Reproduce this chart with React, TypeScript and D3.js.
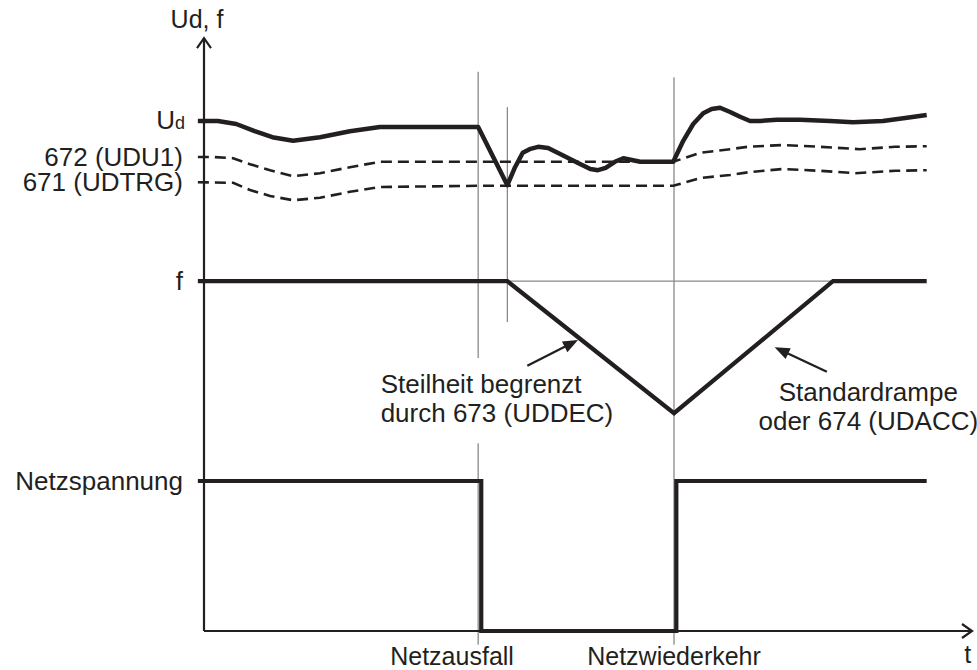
import React from "react";
import * as d3 from "d3";

// time axis in arbitrary units 0..100, value axis 0..100
const udT = [-0.8, 1.8, 4.2, 6.6, 8.9, 11.6, 15.1, 19.0, 22.9, 35.7, 39.5, 40.5, 41.5, 42.4, 43.5, 44.8, 46.7, 48.7, 50.3, 51.3, 52.3, 53.5, 54.6, 55.7, 56.8, 61.1, 62.4, 63.7, 65.0, 66.1, 67.2, 68.5, 69.8, 71.1, 72.4, 74.6, 77.6, 81.5, 84.5, 88.4, 91.3, 94.1];
const udV = [85.0, 85.0, 84.5, 83.3, 82.3, 81.7, 82.3, 83.3, 84.0, 84.0, 74.3, 77.3, 79.7, 80.3, 80.7, 80.5, 79.3, 78.0, 77.0, 76.8, 77.2, 78.2, 78.8, 78.5, 78.2, 78.2, 81.7, 84.5, 86.3, 87.0, 87.2, 86.5, 85.7, 85.0, 85.0, 85.2, 85.2, 85.0, 84.8, 85.0, 85.5, 86.0];

const udu1T = [-0.8, 1.2, 3.8, 6.0, 8.6, 11.6, 15.1, 19.0, 22.9, 35.7, 61.1, 64.6, 68.5, 70.8, 75.4, 80.2, 85.4, 90.0, 94.1];
const udu1V = [79.0, 79.0, 78.8, 77.8, 76.8, 75.8, 76.3, 77.3, 78.2, 78.2, 78.2, 79.7, 80.3, 80.7, 81.0, 80.7, 80.3, 80.7, 80.8];

const udtrgT = [-0.8, 3.8, 6.0, 8.6, 11.6, 15.1, 19.0, 22.9, 35.7, 61.1, 64.6, 68.5, 71.1, 75.4, 80.2, 84.8, 90.0, 94.1];
const udtrgV = [74.8, 74.7, 73.5, 72.5, 71.8, 72.2, 73.2, 74.0, 74.2, 74.2, 75.5, 76.0, 76.5, 77.0, 76.7, 76.3, 76.7, 76.8];

const fT = [-0.8, 39.5, 61.2, 81.9, 94.1];
const fV = [58.3, 58.3, 36.3, 58.3, 58.3];

const netzT = [-0.8, 36.1, 36.1, 61.5, 61.5, 94.1];
const netzV = [25, 25, 0, 0, 25, 25];

// level labels on the value axis
const levelLabels = ["672 (UDU1)", "671 (UDTRG)", "f", "Netzspannung"];
const levelValues = [79.0, 74.8, 58.3, 25];
const udLevel = 85;

// event markers (thin vertical guide lines): time, [from, to] segments
const eventT = [35.7, 35.7, 39.5, 61.2];
const eventFrom = [93.2, 31.3, 87.3, 92.3];
const eventTo = [45.5, -2.3, 51.5, -2.3];
const guideT = [39.5, 81.9];
const guideV = 58.3;

const eventLabels = ["Netzausfall", "Netzwiederkehr"];
const eventLabelT = [32.3, 61.2];

// annotation arrows: tail -> tip
const arrowTailT = [42.1, 81.1];
const arrowTailV = [44.2, 43.2];
const arrowTipT = [48.7, 74.3];
const arrowTipV = [48.5, 47.3];

const noteLeft = ["Steilheit begrenzt", "durch 673 (UDDEC)"];
const noteRight = ["Standardrampe", "oder 674 (UDACC)"];

const INK = "#231f20";
const GRAY = "#8a8a8a";
const FONT = "Arial, 'Liberation Sans', sans-serif";
const FS = 26;
const LH = 29;

export default function App() {
  const W = 977, H = 670;
  const x = d3.scaleLinear().domain([0, 100]).range([204, 972]);
  const y = d3.scaleLinear().domain([0, 100]).range([631, 31]);

  const line = d3.line<[number, number]>().x((d) => x(d[0])).y((d) => y(d[1])).curve(d3.curveLinear);
  const zip = (a: number[], b: number[]) => a.map((t, i) => [t, b[i]] as [number, number]);

  const arrowHead = (tx: number, ty: number, fx: number, fy: number) => {
    const ang = Math.atan2(ty - fy, tx - fx);
    const L = 15, w = 6;
    const bx = tx - L * Math.cos(ang), by = ty - L * Math.sin(ang);
    const p1 = [bx + w * Math.sin(ang), by - w * Math.cos(ang)];
    const p2 = [bx - w * Math.sin(ang), by + w * Math.cos(ang)];
    return `M${tx},${ty}L${p1[0]},${p1[1]}L${p2[0]},${p2[1]}Z`;
  };

  const x0 = x(0), yTop = y(98.8), xEnd = x(100), yAxis = y(0);

  return (
    <svg width={W} height={H} style={{ position: "absolute", left: 0, top: 0, background: "#fff" }} fontFamily={FONT}>
      <rect width={W} height={H} fill="#fff" />
      {/* guide lines */}
      {eventT.map((t, i) => (
        <line key={"ev" + i} x1={x(t)} x2={x(t)} y1={y(eventFrom[i])} y2={y(eventTo[i])} stroke={GRAY} strokeWidth={1.3} />
      ))}
      <line x1={x(guideT[0])} x2={x(guideT[1])} y1={y(guideV)} y2={y(guideV)} stroke={GRAY} strokeWidth={1.3} />

      {/* axes */}
      <line x1={x0} x2={x0} y1={yAxis} y2={yTop} stroke={INK} strokeWidth={2.2} />
      <path d={`M${x0 - 7},${yTop + 10}L${x0},${yTop}L${x0 + 7},${yTop + 10}`} fill="none" stroke={INK} strokeWidth={2.2} />
      <line x1={x0} x2={xEnd} y1={yAxis} y2={yAxis} stroke={INK} strokeWidth={2.2} />
      <path d={`M${xEnd - 10},${yAxis - 7}L${xEnd},${yAxis}L${xEnd - 10},${yAxis + 7}`} fill="none" stroke={INK} strokeWidth={2.2} />

      {/* dashed thresholds */}
      <path d={line(zip(udu1T, udu1V)) || ""} fill="none" stroke={INK} strokeWidth={2.6} strokeDasharray="11 6" />
      <path d={line(zip(udtrgT, udtrgV)) || ""} fill="none" stroke={INK} strokeWidth={2.6} strokeDasharray="11 6" />

      {/* Ud */}
      <path d={line(zip(udT, udV)) || ""} fill="none" stroke={INK} strokeWidth={4.5} strokeLinejoin="round" />
      {/* f */}
      <path d={line(zip(fT, fV)) || ""} fill="none" stroke={INK} strokeWidth={4.2} strokeLinejoin="miter" />
      {/* Netz */}
      <path d={line(zip(netzT, netzV)) || ""} fill="none" stroke={INK} strokeWidth={4.2} strokeLinejoin="miter" />

      {/* arrows */}
      {arrowTailT.map((t, i) => {
        const fx = x(t), fy = y(arrowTailV[i]), tx = x(arrowTipT[i]), ty = y(arrowTipV[i]);
        const ang = Math.atan2(ty - fy, tx - fx);
        return (
          <g key={"ar" + i}>
            <line x1={fx} y1={fy} x2={tx - 10 * Math.cos(ang)} y2={ty - 10 * Math.sin(ang)} stroke={INK} strokeWidth={2.3} />
            <path d={arrowHead(tx, ty, fx, fy)} fill={INK} />
          </g>
        );
      })}

      {/* axis title */}
      <text x={x0 - 7} y={28} textAnchor="middle" fontSize={FS - 1} fill={INK}>Ud, f</text>

      {/* Ud level label */}
      <text x={x0 - 19} y={y(udLevel) + 8} textAnchor="end" fill={INK}>
        <tspan fontSize={FS}>U</tspan>
        <tspan fontSize={18}>d</tspan>
      </text>
      {levelLabels.map((s, i) => (
        <text key={"lv" + i} x={x0 - 21} y={y(levelValues[i]) + 9} textAnchor="end" fontSize={FS} fill={INK}>{s}</text>
      ))}

      {/* notes */}
      {noteLeft.map((s, i) => (
        <text key={"nl" + i} x={x(23.0)} y={y(39.7) + i * LH} textAnchor="start" fontSize={FS} fill={INK}>{s}</text>
      ))}
      {noteRight.map((s, i) => (
        <text key={"nr" + i} x={x(86.5)} y={y(38.3) + i * LH} textAnchor="middle" fontSize={FS} fill={INK}>{s}</text>
      ))}

      {/* event labels */}
      {eventLabels.map((s, i) => (
        <text key={"el" + i} x={x(eventLabelT[i])} y={665} textAnchor="middle" fontSize={FS - 1} fill={INK}>{s}</text>
      ))}
      <text x={x(99)} y={663} fontSize={FS - 1} fill={INK}>t</text>
    </svg>
  );
}
